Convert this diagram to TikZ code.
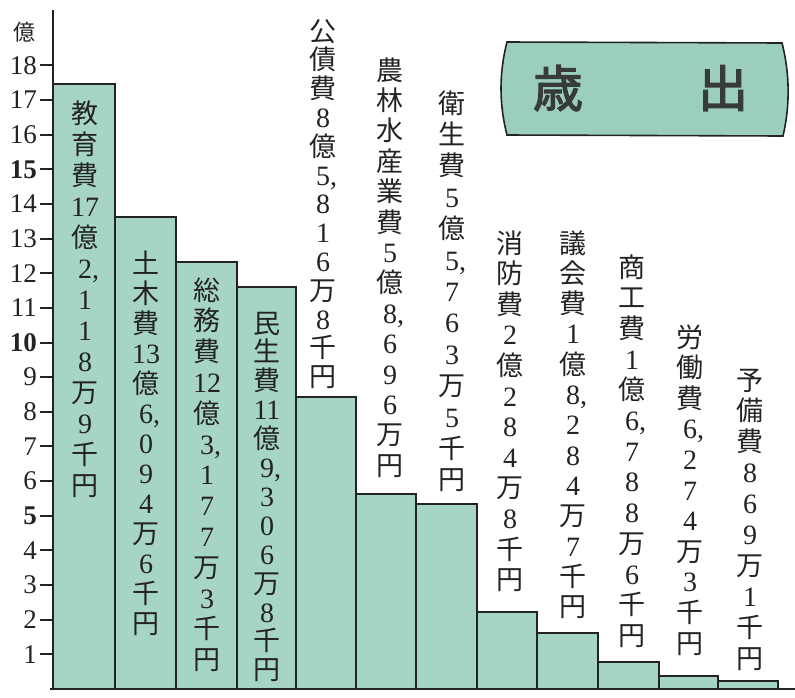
\documentclass[tikz,border=0pt]{standalone}
\usepackage{fontspec}
\setmainfont{Liberation Serif}
\newfontfamily\jp{Noto Sans CJK JP}
\newfontfamily\jpbold{Noto Sans CJK JP}[FakeBold=2.5]
\definecolor{barfill}{RGB}{166,213,196}
\definecolor{boxfill}{RGB}{155,207,188}
\definecolor{ink}{RGB}{35,35,35}
\definecolor{titleink}{RGB}{55,60,58}
\newcommand\dg[1]{{\rmfamily\fontsize{28}{28}\selectfont #1}}
\newcommand\cma{\rlap{,}}
\newcommand\vcol[5]{%
  \foreach \cellt [count=\i from 0] in {#5} {\node[chr] (#1-\i) at (#2, #3+\i*#4+10) {\cellt};}}
\tikzset{
  chr/.style={inner sep=0pt, anchor=base, text=ink, font=\jp\fontsize{27}{27}\selectfont},
  bar/.style={draw=ink, fill=barfill, line width=1.6pt},
  ticklab/.style={anchor=east, inner sep=0pt, text=ink, font=\fontsize{27}{27}\selectfont},
  axisline/.style={draw=ink, line width=2pt},
  tickline/.style={draw=ink, line width=2pt},
}
\begin{document}
\begin{tikzpicture}[x=1pt, y=-1pt]
\useasboundingbox (0,0) rectangle (795,697);
% bars
\path[bar] (53,689) rectangle (115,84);
\path[bar] (115,689) rectangle (176,217);
\path[bar] (176,689) rectangle (237,262);
\path[bar] (237,689) rectangle (296,287);
\path[bar] (296,689) rectangle (356,397);
\path[bar] (356,689) rectangle (416,494);
\path[bar] (416,689) rectangle (477,504);
\path[bar] (477,689) rectangle (537,612);
\path[bar] (537,689) rectangle (598,633);
\path[bar] (598,689) rectangle (659,662);
\path[bar] (659,689) rectangle (718,676);
\path[bar] (718,689) rectangle (778,681);
% axes
\path[axisline] (53,10) -- (53,689);
\path[axisline, line width=2.4pt] (50,689) -- (795,689);
% ticks
\foreach \n in {1,...,18} {
  \path[tickline] (40,{689-34.65*\n}) -- (53,{689-34.65*\n});
}
\foreach \n in {1,2,3,4,6,7,8,9,11,12,13,14,16,17,18} {
  \node[ticklab] (t\n) at (37,{689-34.65*\n}) {\n};
}
\foreach \n in {5,10,15} {
  \node[ticklab, font=\fontsize{27}{27}\selectfont\bfseries] (t\n) at (37,{689-34.65*\n}) {\n};
}
\node[inner sep=0pt, text=ink, font=\jp\fontsize{22}{22}\selectfont] (unit) at (24,32) {億};
% column labels
\vcol{a}{85}{113}{31}{教,育,費,\dg{17},億,\dg{2\cma},\dg1,\dg1,\dg8,万,\dg9,千,円}
\vcol{b}{146}{263}{30}{土,木,費,\dg{13},億,\dg{6\cma},\dg0,\dg9,\dg4,万,\dg6,千,円}
\vcol{c}{207}{290}{30.8}{総,務,費,\dg{12},億,\dg{3\cma},\dg1,\dg7,\dg7,万,\dg3,千,円}
\vcol{d}{267}{323}{28.9}{民,生,費,\dg{11},億,\dg{9\cma},\dg3,\dg0,\dg6,万,\dg8,千,円}
\vcol{e}{323}{31}{28.8}{公,債,費,\dg8,億,\dg{5\cma},\dg8,\dg1,\dg6,万,\dg8,千,円}
\vcol{f}{390}{70}{30.4}{農,林,水,産,業,費,\dg5,億,\dg{8\cma},\dg6,\dg9,\dg6,万,円}
\vcol{g}{452}{103}{31.4}{衛,生,費,\dg5,億,\dg{5\cma},\dg7,\dg6,\dg3,万,\dg5,千,円}
\vcol{h}{510}{243}{30.6}{消,防,費,\dg2,億,\dg2,\dg8,\dg4,万,\dg8,千,円}
\vcol{i}{573}{243}{30.3}{議,会,費,\dg1,億,\dg{8\cma},\dg2,\dg8,\dg4,万,\dg7,千,円}
\vcol{j}{632}{267}{30.7}{商,工,費,\dg1,億,\dg{6\cma},\dg7,\dg8,\dg8,万,\dg6,千,円}
\vcol{k}{690}{337}{30.6}{労,働,費,\dg{6\cma},\dg2,\dg7,\dg4,万,\dg3,千,円}
\vcol{l}{750}{380}{30.9}{予,備,費,\dg8,\dg6,\dg9,万,\dg1,千,円}
% title box
\path[draw=ink, fill=boxfill, line width=1.6pt]
  (507,42) -- (782,43) .. controls (790,74) and (790,106) .. (783,136)
  -- (507,135) .. controls (499,104) and (499,73) .. (507,42) -- cycle;
\node[inner sep=0pt, text=titleink, font=\jpbold\fontsize{50}{50}\selectfont] (sai) at (558,88) {歳};
\node[inner sep=0pt, text=titleink, font=\jpbold\fontsize{50}{50}\selectfont] (shutsu) at (723,88) {出};
\end{tikzpicture}
\end{document}
